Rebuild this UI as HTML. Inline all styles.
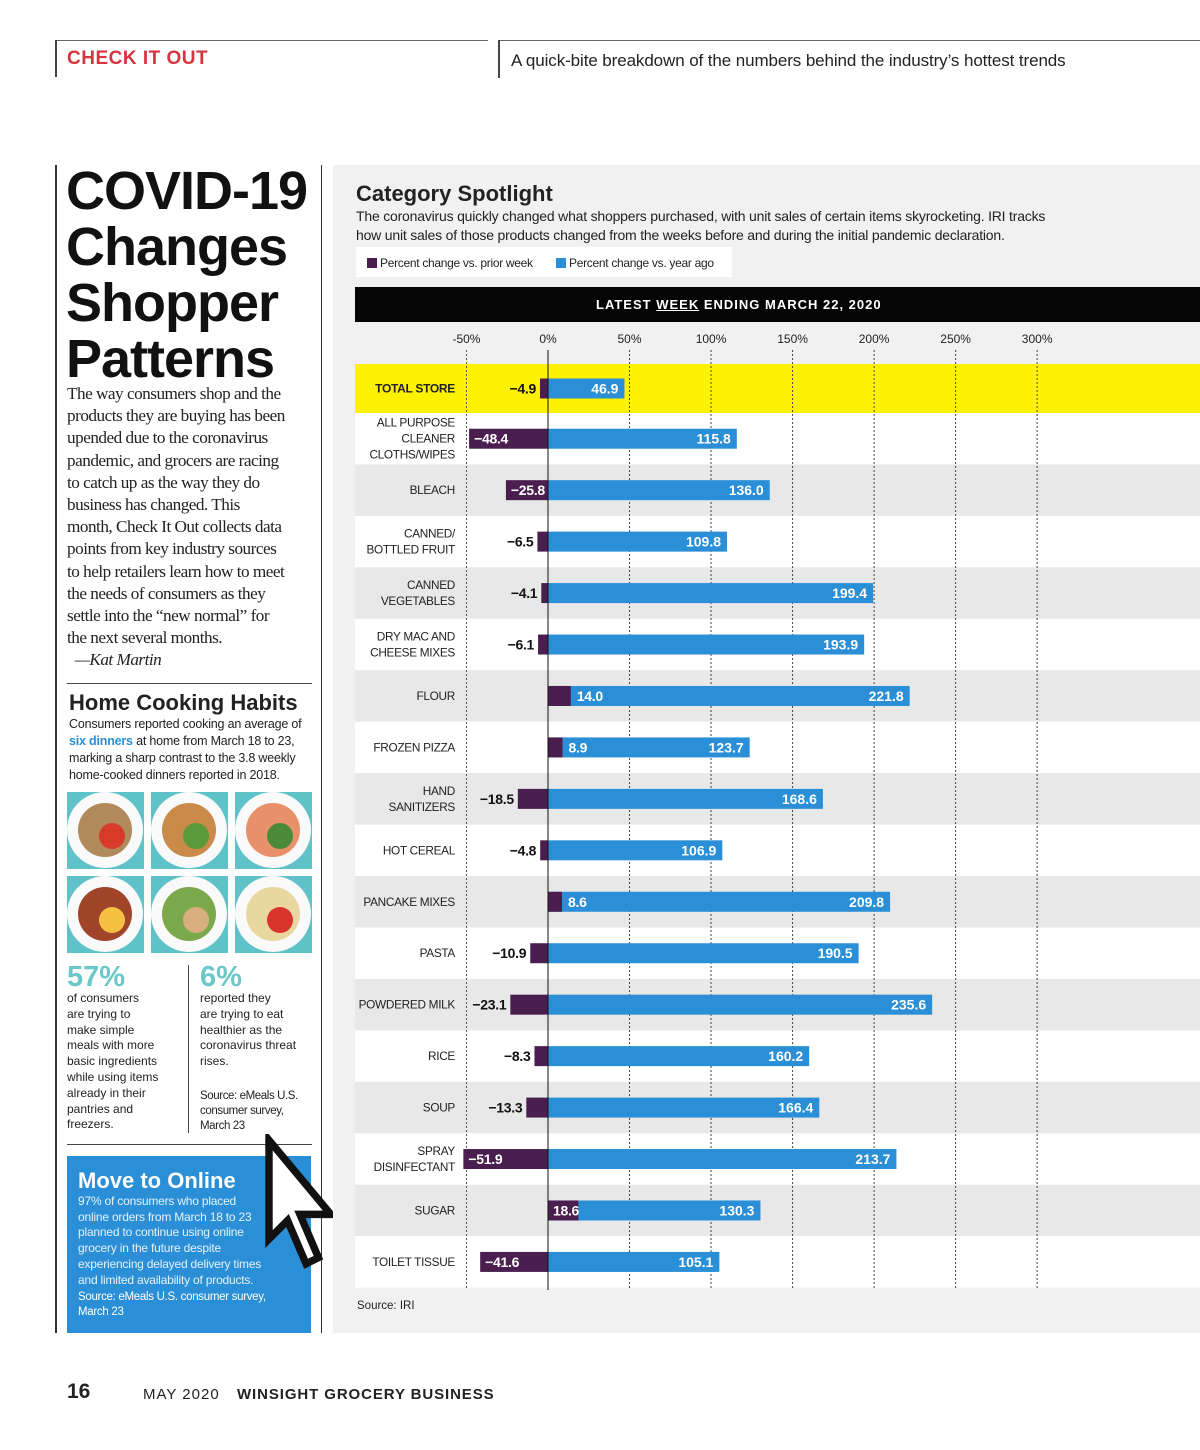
<!DOCTYPE html>
<html><head><meta charset="utf-8">
<style>
*{margin:0;padding:0;box-sizing:border-box}
body{width:1200px;height:1450px;background:#fff;position:relative;overflow:hidden;font-family:"Liberation Sans",sans-serif;color:#222}
.a{position:absolute}
.ser{font-family:"Liberation Serif",serif}
</style></head><body>
<!-- header -->
<div class="a" style="left:56px;top:40px;width:432px;height:1px;background:#666"></div>
<div class="a" style="left:499px;top:40px;width:701px;height:1px;background:#666"></div>
<div class="a" style="left:55px;top:40px;width:2px;height:37px;background:#444"></div>
<div class="a" style="left:498px;top:40px;width:2px;height:38px;background:#444"></div>
<div class="a" style="left:67px;top:48px;font-size:19px;font-weight:bold;color:#d6343f;letter-spacing:.5px">CHECK IT OUT</div>
<div class="a" style="left:511px;top:51px;font-size:17px;color:#222;letter-spacing:-.1px">A quick-bite breakdown of the numbers behind the industry’s hottest trends</div>

<!-- left column -->
<div class="a" style="left:55px;top:165px;width:2px;height:1168px;background:#333"></div>
<div class="a" style="left:321px;top:165px;width:1px;height:1168px;background:#333"></div>
<div class="a" style="left:66px;top:163px;font-size:54px;line-height:56px;font-weight:bold;color:#111;letter-spacing:-1px">COVID-19<br>Changes<br>Shopper<br>Patterns</div>
<div class="a ser" style="left:67px;top:383px;width:260px;font-size:17.2px;line-height:22.2px;color:#222;letter-spacing:-.5px;white-space:nowrap">The way consumers shop and the<br>products they are buying has been<br>upended due to the coronavirus<br>pandemic, and grocers are racing<br>to catch up as the way they do<br>business has changed. This<br>month, Check It Out collects data<br>points from key industry sources<br>to help retailers learn how to meet<br>the needs of consumers as they<br>settle into the “new normal” for<br>the next several months.<br><i>&nbsp;&nbsp;—Kat Martin</i></div>
<div class="a" style="left:67px;top:683px;width:245px;height:1px;background:#444"></div>
<div class="a" style="left:69px;top:690px;font-size:22px;font-weight:bold;color:#222">Home Cooking Habits</div>
<div class="a" style="left:69px;top:716px;width:250px;font-size:12.5px;line-height:17px;color:#222;white-space:nowrap;letter-spacing:-.2px">Consumers reported cooking an average of<br><b style="color:#2a8fd6">six dinners</b> at home from March 18 to 23,<br>marking a sharp contrast to the 3.8 weekly<br>home-cooked dinners reported in 2018.</div>
<svg class="a" style="left:66px;top:791px" width="248" height="164">
 <g id="tiles"></g>
</svg>
<div class="a" style="left:67px;top:961px;font-size:29px;font-weight:bold;color:#6cc7c9">57%</div>
<div class="a" style="left:67px;top:991px;width:118px;font-size:12px;line-height:15.8px;white-space:nowrap">of consumers<br>are trying to<br>make simple<br>meals with more<br>basic ingredients<br>while using items<br>already in their<br>pantries and<br>freezers.</div>
<div class="a" style="left:188px;top:965px;width:1px;height:168px;background:#444"></div>
<div class="a" style="left:200px;top:961px;font-size:29px;font-weight:bold;color:#6cc7c9">6%</div>
<div class="a" style="left:200px;top:991px;width:118px;font-size:12px;line-height:15.8px;white-space:nowrap">reported they<br>are trying to eat<br>healthier as the<br>coronavirus threat<br>rises.</div>
<div class="a" style="left:200px;top:1089px;width:115px;font-size:11.5px;line-height:15px;letter-spacing:-.4px;white-space:nowrap">Source: eMeals U.S.<br>consumer survey,<br>March 23</div>
<div class="a" style="left:67px;top:1144px;width:245px;height:1px;background:#444"></div>
<div class="a" style="left:67px;top:1156px;width:244px;height:177px;background:#2a8fd6;color:#fff;padding:12px 0 0 11px">
 <div style="font-size:22px;font-weight:bold;line-height:26px">Move to Online</div>
 <div style="font-size:12px;line-height:15.7px;color:#e6f2fb;white-space:nowrap;letter-spacing:-.2px">97% of consumers who placed<br>online orders from March 18 to 23<br>planned to continue using online<br>grocery in the future despite<br>experiencing delayed delivery times<br>and limited availability of products.</div>
 <div style="font-size:11.5px;line-height:15px;margin-top:2px;white-space:nowrap;letter-spacing:-.3px">Source: eMeals U.S. consumer survey,<br>March 23</div>
</div>
<svg class="a" style="left:262px;top:1134px" width="82" height="136" viewBox="0 0 13 22">
 <path d="M1 1 L1 17 L4 14 L7 21 L9 20 L6 13 L11 13 Z" fill="#fff" stroke="#111" stroke-width="1.2" stroke-linejoin="miter"/>
</svg>

<!-- footer -->
<div class="a" style="left:67px;top:1380px;font-size:21px;font-weight:bold">16</div>
<div class="a" style="left:143px;top:1386px;font-size:15px;letter-spacing:1px">MAY 2020</div>
<div class="a" style="left:237px;top:1386px;font-size:15px;font-weight:bold;letter-spacing:.9px">WINSIGHT GROCERY BUSINESS</div>

<!-- chart panel -->
<div class="a" style="left:333px;top:165px;width:867px;height:1168px;background:#f1f1f1"></div>
<div class="a" style="left:356px;top:181px;font-size:22px;font-weight:bold;color:#222">Category Spotlight</div>
<div class="a" style="left:356px;top:207px;width:800px;font-size:14px;line-height:19px;color:#222;letter-spacing:-.2px;white-space:nowrap">The coronavirus quickly changed what shoppers purchased, with unit sales of certain items skyrocketing. IRI tracks<br>how unit sales of those products changed from the weeks before and during the initial pandemic declaration.</div>
<div class="a" style="left:356px;top:247px;width:376px;height:30px;background:#fff;font-size:12px;letter-spacing:-.3px">
 <div class="a" style="left:11px;top:9px"><span style="display:inline-block;width:10px;height:10px;background:#4a1f4f;vertical-align:-1px"></span> Percent change vs. prior week</div>
 <div class="a" style="left:200px;top:9px"><span style="display:inline-block;width:10px;height:10px;background:#2a8fd6;vertical-align:-1px"></span> Percent change vs. year ago</div>
</div>
<div class="a" style="left:355px;top:287px;width:845px;height:35px;background:#050505;color:#fff;font-size:13px;font-weight:bold;letter-spacing:1px;line-height:35px;padding-left:241px">LATEST <u>WEEK</u> ENDING MARCH 22, 2020</div>
<svg class="a" id="chart" style="left:0;top:0" width="1200" height="1333"></svg>
<div class="a" style="left:357px;top:1300px;font-size:11.5px">Source: IRI</div>

<script>
const categories=["TOTAL STORE","ALL PURPOSE|CLEANER|CLOTHS/WIPES","BLEACH","CANNED/|BOTTLED FRUIT","CANNED|VEGETABLES","DRY MAC AND|CHEESE MIXES","FLOUR","FROZEN PIZZA","HAND|SANITIZERS","HOT CEREAL","PANCAKE MIXES","PASTA","POWDERED MILK","RICE","SOUP","SPRAY|DISINFECTANT","SUGAR","TOILET TISSUE"];
const priorWeek=[-4.9,-48.4,-25.8,-6.5,-4.1,-6.1,14.0,8.9,-18.5,-4.8,8.6,-10.9,-23.1,-8.3,-13.3,-51.9,18.6,-41.6];
const yearAgo=[46.9,115.8,136.0,109.8,199.4,193.9,221.8,123.7,168.6,106.9,209.8,190.5,235.6,160.2,166.4,213.7,130.3,105.1];
const tickValues=[-50,0,50,100,150,200,250,300];
const tickLabels=["-50%","0%","50%","100%","150%","200%","250%","300%"];

const NS="http://www.w3.org/2000/svg";
const svg=document.getElementById('chart');
const x=v=>548+v*1.6305;
const rowTop=i=>i===0?364:413+(i-1)*51.45;
const rowH=i=>i===0?49:51.45;
const rowC=i=>rowTop(i)+rowH(i)/2;
function el(t,a){const e=document.createElementNS(NS,t);for(const k in a)e.setAttribute(k,a[k]);svg.appendChild(e);return e;}
function txt(s,a){const e=el('text',a);e.textContent=s;return e;}

categories.forEach((c,i)=>{
  const fill=i===0?'#fff200':(i%2===1?'#ffffff':'#e8e8e8');
  const r=el('rect',{x:355,y:rowTop(i),width:845,height:rowH(i),fill:fill});
  
  
});
tickValues.forEach((v,i)=>{
  const t=txt(tickLabels[i],{x:x(v),y:343,'text-anchor':'middle','font-size':12,fill:'#222','font-family':'Liberation Sans'});
  
  
  if(v!==0){
    const g=el('line',{x1:x(v),x2:x(v),y1:350,y2:1290,stroke:v===-50?'#555':'#444','stroke-width':1,'stroke-dasharray':'2,2'});
    
    
  }
});
const bh=20;
categories.forEach((c,i)=>{
  const cy=rowC(i);
  const lines=c.split('|');
  lines.forEach((ln,j)=>{
    const t=txt(ln,{x:455,y:cy+4+(j-(lines.length-1)/2)*16,'text-anchor':'end','font-size':i===0?12:11.8,'font-weight':i===0?'bold':'normal',fill:'#222','font-family':'Liberation Sans','letter-spacing':'-0.3'});
    
    
  });
  const yv=yearAgo[i],pv=priorWeek[i];
  const b=el('rect',{x:x(0),y:cy-bh/2,width:x(yv)-x(0),height:bh,fill:'#2a8fd6'});
  
  
  const p=el('rect',{x:Math.min(x(0),x(pv)),y:cy-bh/2,width:Math.abs(x(pv)-x(0)),height:bh,fill:'#4a1f4f'});
  
  
  const yl=txt(yv.toFixed(1),{x:x(yv)-6,y:cy+5,'text-anchor':'end','font-size':14,'font-weight':'bold',fill:'#fff','font-family':'Liberation Sans'});
  
  
  const ps=(pv<0?'\u2212':'')+Math.abs(pv).toFixed(1);
  let a;
  if(pv<-24) a={x:x(pv)+5,y:cy+5,fill:'#fff','text-anchor':'start'};
  else if(pv<0) a={x:x(pv)-4,y:cy+5,fill:'#111','text-anchor':'end'};
  else if(pv>15) a={x:x(0)+5,y:cy+5,fill:'#fff','text-anchor':'start'};
  else a={x:x(pv)+6,y:cy+5,fill:'#fff','text-anchor':'start'};
  a['font-size']=14;a['font-weight']='bold';a['font-family']='Liberation Sans';a['letter-spacing']='-0.3';
  const pl=txt(ps,a);
  
  
});
const z=el('line',{x1:x(0),x2:x(0),y1:350,y2:1290,stroke:'#111','stroke-width':1});



// meal tiles
const tg=document.getElementById('tiles');
const foods=[["#b08a5a","#d83a2a"],["#c98a4a","#5a9a3a"],["#e8906a","#4a8a3a"],["#a0452a","#f5c040"],["#7aa84a","#d8b080"],["#e8d8a0","#d8362a"]];
foods.forEach((f,i)=>{
  const cx=(i%3)*84,cy=Math.floor(i/3)*84;
  const g=document.createElementNS(NS,'g');
  
  
  g.innerHTML=`<rect x="${cx+1}" y="${cy+1}" width="77" height="77" fill="#5fc2c8"/><circle cx="${cx+39}" cy="${cy+39}" r="38" fill="#fafafa"/><circle cx="${cx+39}" cy="${cy+39}" r="27" fill="${f[0]}"/><circle cx="${cx+46}" cy="${cy+45}" r="13" fill="${f[1]}"/>`;
  tg.appendChild(g);
});
</script>
</body></html>
